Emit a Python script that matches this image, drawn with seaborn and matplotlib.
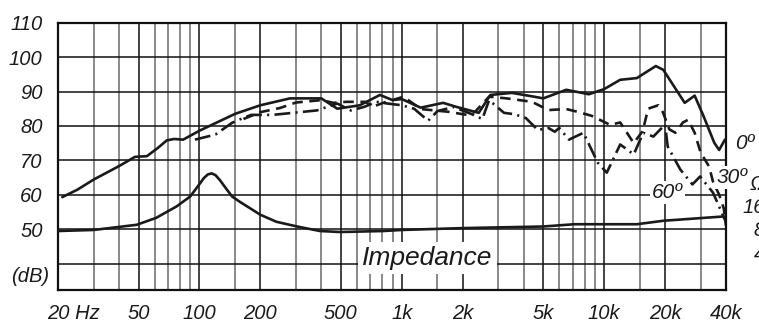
import numpy as np
import pandas as pd
import matplotlib as mpl
mpl.use('Agg')
import matplotlib.pyplot as plt
import seaborn as sns
from matplotlib.ticker import FixedLocator, NullLocator, NullFormatter

# on-axis (0 deg) response, Hz / dB
freq_0 = [21, 25, 30, 40, 48, 55, 62, 69, 75, 83, 100, 150, 200, 280, 400, 480, 620, 780,
          900, 1000, 1240, 1600, 1870, 2400, 2740, 3500, 4500, 5000, 6500, 8400, 10000,
          12000, 14500, 18000, 19600, 25000, 28000, 31000, 35000, 37000, 39500]
spl_0 = [59.3, 61.5, 64.4, 68.3, 71.0, 71.2, 73.5, 75.8, 76.2, 76.0, 78.6, 83.5, 86.0, 88.0,
         88.0, 85.0, 86.0, 89.0, 87.5, 87.8, 85.3, 86.7, 85.5, 83.8, 89.0, 89.6, 88.5, 88.0,
         90.5, 89.2, 90.7, 93.4, 93.9, 97.4, 96.3, 86.7, 88.8, 82.8, 75.1, 73.0, 76.0]

# 30 deg off-axis
freq_30 = [165, 200, 250, 300, 400, 460, 530, 660, 720, 810, 900, 1020, 1240, 1700, 2100,
           2300, 2700, 3300, 4400, 5300, 6500, 7500, 8700, 10700, 12000, 14000, 15500,
           16500, 18500, 19500, 21000, 22500, 24500, 26000, 28000, 30000, 33000, 34500,
           37000, 39000, 40000]
spl_30 = [82.0, 84.0, 85.2, 86.8, 87.5, 86.7, 87.0, 87.0, 85.6, 86.7, 87.5, 88.5, 84.9,
          84.1, 83.2, 84.1, 88.5, 88.0, 87.0, 84.6, 84.9, 84.0, 82.9, 80.3, 81.0, 75.0,
          78.5, 85.0, 86.0, 84.0, 79.0, 78.0, 81.0, 81.8, 78.0, 72.2, 68.2, 63.8, 60.0,
          56.0, 51.0]

# 60 deg off-axis
freq_60 = [95, 120, 145, 160, 180, 230, 290, 380, 480, 560, 650, 750, 850, 1000, 1150,
           1350, 1500, 1800, 2200, 2500, 2700, 3200, 3600, 4100, 4700, 5300, 5700, 6000,
           6700, 7900, 9300, 10300, 12000, 14000, 15600, 17500, 20000, 20600, 23800,
           27300, 29800, 34500, 40000]
spl_60 = [76.0, 77.5, 80.9, 82.0, 83.2, 83.2, 83.8, 84.5, 86.5, 84.5, 85.5, 87.0, 86.5,
          86.0, 85.0, 81.5, 84.3, 85.5, 83.5, 82.0, 87.5, 83.8, 83.4, 82.3, 78.8, 79.4,
          78.3, 79.4, 76.0, 78.0, 69.3, 66.4, 74.6, 71.7, 78.0, 76.9, 80.4, 74.0, 67.3,
          63.0, 65.3, 60.6, 52.0]

# impedance, Hz / ohm
freq_imp = [20, 30, 49, 61, 77, 90, 101, 105, 110, 115, 120, 126, 135, 145, 158, 200, 240,
            304, 394, 496, 812, 1000, 2000, 5000, 7100, 14500, 19600, 39000]
z_imp = [7.52, 7.76, 9.05, 11.1, 15.6, 21.0, 31.4, 36.2, 40.5, 41.8, 39.7, 34.4, 26.9,
         21.0, 18.0, 12.2, 9.9, 8.6, 7.52, 7.3, 7.52, 7.76, 8.2, 8.6, 9.2, 9.2, 10.2, 11.6]

x_labeled = [20, 50, 100, 200, 500, 1000, 2000, 5000, 10000, 20000, 40000]
x_labels = ['20 Hz', '50', '100', '200', '500', '1k', '2k', '5k', '10k', '20k', '40k']
x_other = [30, 40, 60, 70, 80, 90, 150, 300, 400, 600, 700, 800, 900, 1500, 3000, 4000,
           6000, 7000, 8000, 9000, 15000, 30000]
y_ticks = [40, 50, 60, 70, 80, 90, 100, 110]
y_labels = ['', '50', '60', '70', '80', '90', '100', '110']
z_ticks = [4, 8, 16, 32]
z_labels = ['4', '8', '16', 'Ω']

sns.set_theme(style='white')
plt.rcParams['font.family'] = ['Liberation Sans', 'DejaVu Sans']
plt.rcParams['font.style'] = 'italic'

ink = '#1a1a1a'
fig = plt.figure(figsize=(7.59, 3.22), dpi=100)
ax = fig.add_axes([58 / 759, 32 / 322, 668 / 759, 267.3 / 322])

sns.lineplot(x=freq_0, y=spl_0, ax=ax, color=ink, lw=1.9, sort=False)
sns.lineplot(x=freq_30, y=spl_30, ax=ax, color=ink, lw=1.9, sort=False,
             linestyle=(0, (4, 2.5)))
sns.lineplot(x=freq_60, y=spl_60, ax=ax, color=ink, lw=1.9, sort=False,
             linestyle=(0, (6, 2, 0.8, 2)))

ax.set_xscale('log')
ax.set_xlim(20, 40000)
ax.set_ylim(32.3, 110)
ax.set_xticks(x_labeled)
ax.set_xticklabels(x_labels, fontstyle='italic')
ax.xaxis.set_minor_locator(FixedLocator(x_other))
ax.xaxis.set_minor_formatter(NullFormatter())
ax.set_yticks(y_ticks)
ax.set_yticklabels(y_labels, fontstyle='italic')
ax.grid(which='major', color='#111111', lw=1.1)
ax.grid(which='minor', axis='x', color='#6a6a6a', lw=1.1)
ax.tick_params(which='both', length=0)
ax.tick_params(axis='x', pad=10, labelsize=14.5, colors=ink)
ax.tick_params(axis='y', pad=11, labelsize=14.5, colors=ink)
ax.set_xlabel('')
ax.set_ylabel('')
for s in ax.spines.values():
    s.set_color('#111111')
    s.set_linewidth(1.6)

# "20 Hz": the number sits on the left edge
first = ax.get_xticklabels()[0]
first.set_horizontalalignment('left')
first.set_transform(first.get_transform()
                    + mpl.transforms.ScaledTranslation(-11 / 100, 0, fig.dpi_scale_trans))

ax.annotate('(dB)', xy=(0, 36.1), xycoords=('axes fraction', 'data'), xytext=(-6, 0),
            textcoords='offset points', ha='right', va='center', fontsize=14.5,
            fontstyle='italic', color=ink)

# impedance on its own log scale
ax2 = ax.twinx()
sns.lineplot(x=freq_imp, y=z_imp, ax=ax2, color=ink, lw=1.9, sort=False)
ax2.set_yscale('log', base=2)
ax2.set_ylim(1.30, 3701)
ax2.set_yticks(z_ticks)
ax2.set_yticklabels(z_labels, fontstyle='italic')
ax2.yaxis.set_minor_locator(NullLocator())
ax2.tick_params(axis='y', length=0, pad=28, labelsize=14.5, colors=ink)
for lbl in ax2.get_yticklabels():
    lbl.set_horizontalalignment('right')
ax2.set_ylabel('')
ax2.grid(False)
for s in ax2.spines.values():
    s.set_visible(False)

box = dict(facecolor='white', edgecolor='none', pad=1.5)
ax2.annotate('0º', xy=(1, 75.0), xycoords=('axes fraction', ax.transData), xytext=(6.5, 0),
             textcoords='offset points', ha='left', va='center', fontsize=15,
             fontstyle='italic', color=ink, annotation_clip=False)
ax2.annotate('30º', xy=(36100, 64.9), xycoords=ax.transData, ha='left', va='center',
             fontsize=15, fontstyle='italic', color=ink, bbox=box,
             annotation_clip=False, zorder=10)
ax2.annotate('60º', xy=(17200, 60.7), xycoords=ax.transData, ha='left', va='center',
             fontsize=15, fontstyle='italic', color=ink, bbox=box, zorder=10)
ax2.annotate('Impedance', xy=(636, 41.6), xycoords=ax.transData, ha='left', va='center',
             fontsize=19, fontstyle='italic', color=ink,
             bbox=dict(facecolor='white', edgecolor='none', pad=3), zorder=10)

fig.savefig('out.png', dpi=100)
